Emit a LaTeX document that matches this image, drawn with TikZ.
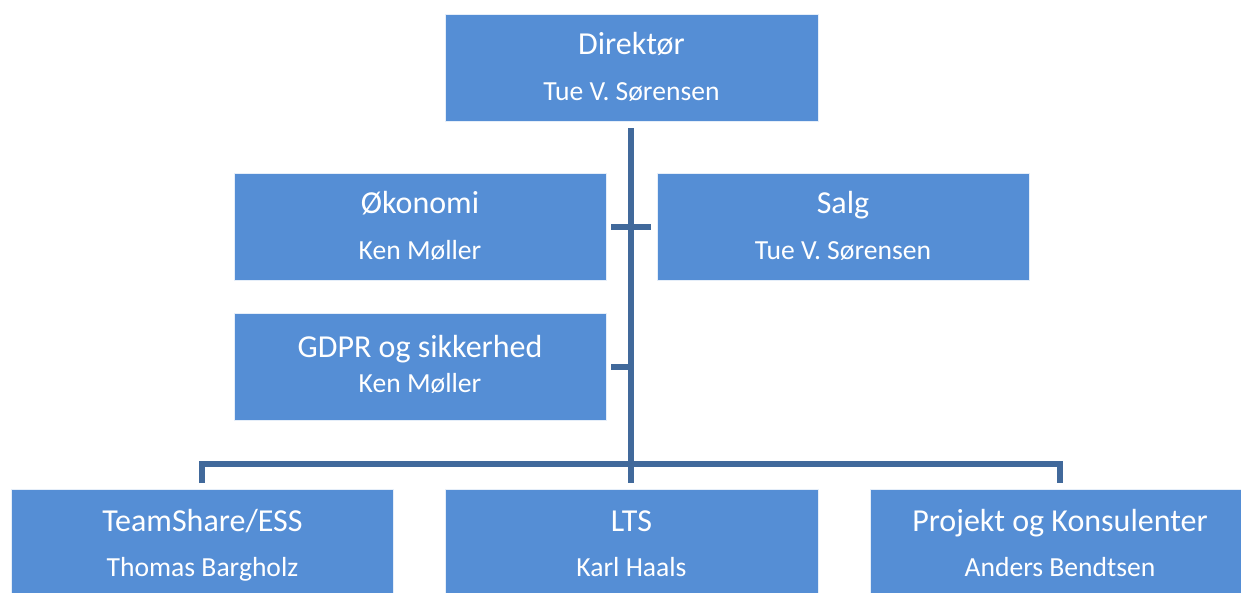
\documentclass[tikz,border=0pt]{standalone}
\usepackage{fontspec}
\setmainfont{Carlito}
\definecolor{boxblue}{HTML}{558ED5}
\definecolor{linkblue}{HTML}{41699B}
\begin{document}
\begin{tikzpicture}[x=1pt,y=-1pt,
  box/.style={fill=boxblue,draw=white!85!boxblue,line width=1pt,inner sep=0pt,minimum height=107pt},
  ttl/.style={text=white,anchor=base,inner sep=0pt,font=\fontsize{32}{38}\selectfont},
  sub/.style={text=white,anchor=base,inner sep=0pt,font=\fontsize{27.6}{32}\selectfont},
  link/.style={draw=linkblue,line width=6pt}]
\useasboundingbox (0,0) rectangle (1241,592);
% boxes
\node[box,minimum width=373pt] (dir) at (631.5,67.5) {};
\node[box,minimum width=372pt] (oek) at (420,226.5) {};
\node[box,minimum width=372pt] (salg) at (843,226.5) {};
\node[box,minimum width=372pt] (gdpr) at (420,366.5) {};
\node[box,minimum width=382pt] (ts) at (202.5,542.5) {};
\node[box,minimum width=373pt] (lts) at (631.5,542.5) {};
\node[box,minimum width=380pt] (proj) at (1060,542.5) {};
% texts
\node[ttl] (dirT) at (631.5,54.5) {Direktør};
\node[sub] (dirS) at (631.5,100) {Tue V. Sørensen};
\node[ttl] (oekT) at (420,213.5) {Økonomi};
\node[sub] (oekS) at (420,259) {Ken Møller};
\node[ttl] (salgT) at (843,213.5) {Salg};
\node[sub] (salgS) at (843,259) {Tue V. Sørensen};
\node[ttl] (gdprT) at (420,357) {GDPR og sikkerhed};
\node[sub] (gdprS) at (420,392) {Ken Møller};
\node[ttl] (tsT) at (202.5,531) {TeamShare/ESS};
\node[sub] (tsS) at (202.5,576) {Thomas Bargholz};
\node[ttl] (ltsT) at (631.5,531) {LTS};
\node[sub] (ltsS) at (631.5,576) {Karl Haals};
\node[ttl] (projT) at (1060,531) {Projekt og Konsulenter};
\node[sub] (projS) at (1060,576) {Anders Bendtsen};
% connector points
\coordinate (top) at (631,128);
\coordinate (spine) at (631,483);
\coordinate (tickO) at (611,227);
\coordinate (tickS) at (651,227);
\coordinate (tickG) at (611,366.5);
\coordinate (tickGe) at (631,366.5);
\coordinate (barL) at (202,463.5);
\coordinate (barR) at (1060,463.5);
\coordinate (dropL) at (202,483);
\coordinate (dropR) at (1060,483);
% connectors
\draw[link] (top) -- (spine);
\draw[link] (tickO) -- (tickS);
\draw[link] (tickG) -- (tickGe);
\draw[link,line join=miter] (dropL) -- (barL) -- (barR) -- (dropR);
\end{tikzpicture}
\end{document}
